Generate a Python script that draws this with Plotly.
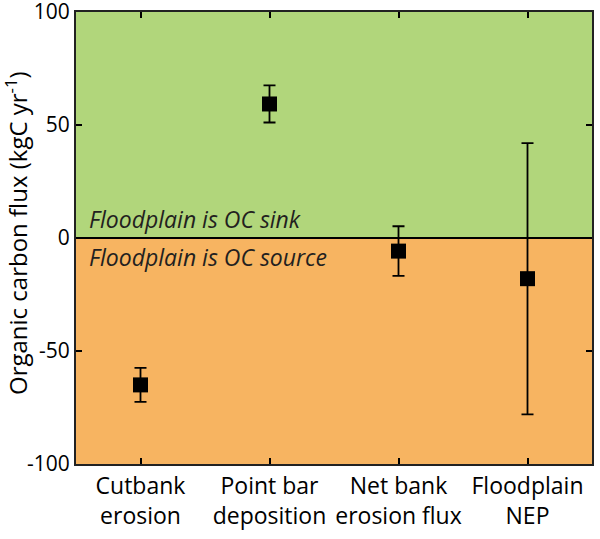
import plotly.graph_objects as go

# Data
categories = ['Cutbank<br>erosion', 'Point bar<br>deposition', 'Net bank<br>erosion flux', 'Floodplain<br>NEP']
flux = [-65, 59.3, -5.8, -18]
err = [7.5, 8.2, 11, 60]
y_ticks = [-100, -50, 0, 50, 100]
y_ticktext = ['-100', '-50', '0', '50', '100']

xpos = [1, 2, 3, 4]
font = 'Open Sans'

fig = go.Figure()
fig.add_trace(go.Scatter(x=xpos, y=flux, mode='markers',
                         marker=dict(symbol='square', size=15, color='black'),
                         error_y=dict(type='data', array=err, color='black',
                                      thickness=1.8, width=6),
                         showlegend=False, cliponaxis=False))

# sink / source background
fig.add_shape(type='rect', xref='paper', yref='y', x0=0, x1=1, y0=0, y1=100,
              fillcolor='#b1d67b', line_width=0, layer='below')
fig.add_shape(type='rect', xref='paper', yref='y', x0=0, x1=1, y0=-100, y1=0,
              fillcolor='#f7b461', line_width=0, layer='below')
fig.add_shape(type='line', xref='paper', yref='y', x0=0, x1=1, y0=0, y1=0,
              line=dict(color='black', width=2))

fig.add_annotation(x=0, y=0, xref='paper', yref='y', text='<i>Floodplain is OC sink</i>',
                   showarrow=False, xanchor='left', yanchor='bottom', xshift=11, yshift=1,
                   font=dict(size=23, color='#231f20', family=font))
fig.add_annotation(x=0, y=0, xref='paper', yref='y', text='<i>Floodplain is OC source</i>',
                   showarrow=False, xanchor='left', yanchor='top', xshift=11, yshift=-1,
                   font=dict(size=23, color='#231f20', family=font))

# y title as rotated annotation
fig.add_annotation(x=0, y=0.5, xref='paper', yref='paper',
                   text='Organic carbon flux (kgC yr<sup>-1</sup>)', textangle=-90,
                   showarrow=False, xanchor='center', yanchor='middle', xshift=-60, yshift=5,
                   font=dict(size=24, color='black', family=font))

fig.update_xaxes(range=[0.5, 4.5], tickmode='array', tickvals=xpos, ticktext=categories,
                 ticks='inside', ticklen=6, tickwidth=1.5, tickcolor='black',
                 showline=True, linecolor='#222', linewidth=2, mirror='ticks',
                 showgrid=False, zeroline=False, automargin=False,
                 tickfont=dict(size=23, color='black', family=font))
fig.update_yaxes(range=[-100, 100], tickmode='array', tickvals=y_ticks, ticktext=y_ticktext,
                 ticks='inside', ticklen=6, tickwidth=1.5, tickcolor='black',
                 showline=True, linecolor='#222', linewidth=2, mirror='ticks',
                 showgrid=False, zeroline=False, automargin=False,
                 ticklabeloverflow='allow',
                 tickfont=dict(size=21, color='black', family=font))

fig.update_layout(width=600, height=539, margin=dict(l=76, r=8, t=12, b=75),
                  paper_bgcolor='white', plot_bgcolor='white')

fig.write_html("out.html", config={'displayModeBar': False},
               post_script="document.body.style.margin='0';")
